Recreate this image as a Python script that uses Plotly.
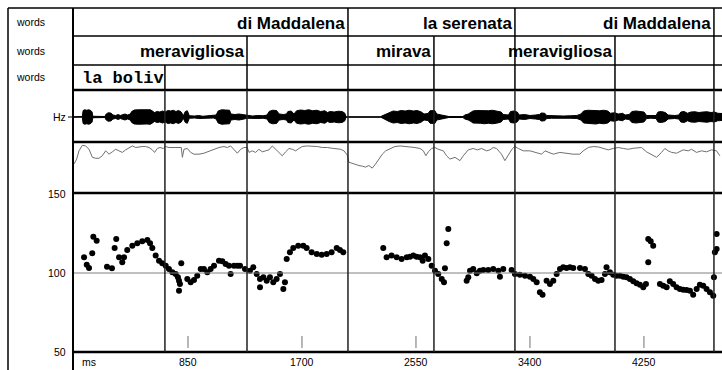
import plotly.graph_objects as go

W, H = 722, 370

# ---------------- data ----------------
T_MAX = 4832  # ms visible in the window

tick_ms = [850, 1700, 2550, 3400, 4250]
hz_ticks = [50, 100, 150]

row_names = ["words", "words", "words"]

tier1_ends = [2043, 3288, 4772]
tier1_labels = ["di Maddalena", "la serenata", "di Maddalena"]
tier2_ends = [1290, 2043, 2684, 3288, 4034, 4772]
tier2_labels = ["meravigliosa", "", "mirava", "", "meravigliosa", ""]
tier3_ends = [678, 1290, 2043, 2684, 3288, 4034, 4772]
tier3_labels = ["la boliv", "", "", "", "", "", ""]

# F0 estimates (ms, Hz)
pitch_ms = [75, 95, 112, 136, 144, 169, 246, 283, 303, 315, 336, 360, 373, 397, 435,
            472, 509, 547, 567, 584, 609, 634, 658, 684, 708, 733, 758, 775, 800, 783,
            790, 783, 845, 870, 895, 919, 945, 969, 994, 1019, 1044, 1081, 1106, 1131,
            1156, 1168, 1193, 1218, 1238, 1275, 1312, 1337, 1362, 1387, 1387, 1412,
            1437, 1461, 1486, 1511, 1536, 1561, 1573, 1586, 1610, 1635, 1672, 1710,
            1735, 1772, 1810, 1847, 1884, 1921, 1959, 1983, 2008,
            2306, 2331, 2368, 2406, 2443, 2481, 2505, 2530, 2555, 2580, 2600, 2617,
            2642, 2667, 2692, 2716, 2742, 2759, 2791, 2779, 2766,
            2928, 2940, 2953, 2977, 3003, 3027, 3052, 3089, 3126, 3164, 3176, 3201,
            3263, 3288, 3325, 3363, 3400, 3425, 3450, 3474, 3494, 3524, 3549, 3574,
            3599, 3624, 3648, 3673, 3698, 3723, 3773, 3810, 3835, 3860, 3885, 3909,
            3934, 3959, 3971, 3996, 4021, 4046, 4071, 4096, 4120, 4145, 4170, 4195,
            4220, 4245, 4265, 4282, 4300, 4319, 4282,
            4369, 4394, 4419, 4443, 4468, 4493, 4518, 4543, 4568, 4593, 4617, 4643,
            4667, 4692, 4717, 4742, 4767, 4772, 4779, 4792, 4792]
pitch_hz = [110, 105.3, 103.2, 112.5, 123, 120.4, 104, 103, 115.8, 121.5, 110, 106.8,
            110, 114.6, 117.3, 118.8, 120.1, 120.9, 118.8, 115.8, 111, 107.8, 106.1,
            104.6, 102.5, 100.4, 99.4, 97.3, 106.1, 95.1, 93, 88.8, 96.2, 94.1, 95.6,
            98.3, 102.5, 102.5, 100.4, 102.5, 104.6, 107.8, 107.4, 105.7, 104.6, 99.4,
            104.6, 104.6, 104.6, 102.5, 101.5, 103.6, 99.4, 96.2, 91, 97.3, 95.1, 97.3,
            94.1, 96.2, 99.4, 89.9, 94.1, 108.9, 113.1, 115.8, 117.3, 117.3, 115.8,
            113.1, 112, 111.6, 112, 113.1, 115.8, 114.6, 113.1,
            115.8, 110, 111, 110, 108.9, 110, 110.3, 111, 110.3, 110, 107.8, 111,
            108.9, 104.6, 101.5, 99.4, 96.2, 94.1, 127.8, 118.8, 103,
            95.1, 97.3, 101.5, 102.5, 99.8, 101.5, 101.9, 101.9, 102.5, 101.5, 97.7,
            102.5, 101.9, 99.4, 98.9, 98.3, 97.7, 96.2, 94.1, 87.8, 86.3, 95.1, 93,
            95.1, 99.4, 102.5, 103.6, 103.2, 103.6, 103.2, 103.2, 102.5, 99.4, 98.3,
            96.2, 95.1, 95.6, 99.4, 103.6, 100.4, 98.9, 98.3, 98.3, 97.7, 97.3, 96.2,
            94.7, 93.5, 92.6, 91, 93, 121.5, 120.1, 117.3, 106.8,
            93, 92, 91, 94.7, 93, 91, 89.9, 89.4, 89.2, 88.8, 86.3, 89.9, 92.6, 92,
            89.9, 87.8, 85.6, 97.3, 113.1, 115.2, 124.7]

# intensity contour (ms, dB)
int_ms = [0, 20, 37, 62, 87, 112, 137, 162, 186, 211, 236, 261, 286, 311, 335, 360,
          385, 410, 435, 460, 485, 509, 534, 559, 584, 601, 621, 641, 666, 683, 708,
          733, 770, 800, 808, 820, 845, 870, 895, 932, 969, 994, 1019, 1044, 1081,
          1118, 1143, 1168, 1193, 1218, 1243, 1267, 1292, 1305, 1329, 1354, 1379,
          1404, 1429, 1454, 1479, 1503, 1528, 1553, 1578, 1603, 1628, 1653, 1677,
          1702, 1740, 1777, 1814, 1851, 1889, 1926, 1963, 1988, 2013, 2038, 2050,
          2087, 2125, 2150, 2174, 2199, 2224, 2249, 2274, 2299, 2324, 2348, 2393,
          2431, 2468, 2505, 2542, 2580, 2605, 2624, 2642, 2667, 2691, 2716, 2754,
          2778, 2803, 2841, 2878, 2903, 2940, 2977, 3007, 3039, 3077, 3102, 3126,
          3151, 3188, 3213, 3231, 3251, 3270, 3288, 3313, 3350, 3400, 3449, 3487,
          3512, 3536, 3574, 3623, 3673, 3723, 3772, 3797, 3835, 3872, 3909, 3946,
          3984, 4021, 4058, 4096, 4133, 4170, 4207, 4232, 4269, 4307, 4344, 4381,
          4406, 4431, 4456, 4493, 4518, 4543, 4580, 4605, 4642, 4679, 4717, 4754,
          4791, 4816]
int_db = [69.8, 72.3, 76.5, 79.3, 79, 77.3, 73.2, 72.7, 72.7, 74, 76.5, 74.8, 76, 77.3,
          76.5, 75.7, 77, 78.2, 79, 78.2, 78.5, 78.7, 78.7, 78.2, 77, 75.7, 77.7, 78.2,
          77.7, 78.7, 78.2, 78.2, 78.2, 78.2, 73.2, 77.3, 77.7, 75.7, 74.8, 74.8, 75.3,
          76, 76.5, 77.3, 78.2, 78.7, 78.2, 79, 77.3, 75.3, 77.3, 78.2, 78.2, 75.7,
          76.5, 75.7, 77.3, 76, 76.5, 77, 79, 77.3, 75.7, 74, 76, 77.7, 77.3, 76.5,
          77.7, 78.7, 79, 79, 78.7, 78.2, 78.2, 77.8, 77.7, 77.3, 76.5, 74.3, 70.7,
          69.8, 69, 68.7, 68.2, 69, 67.7, 69.8, 72.3, 74.8, 76.5, 77.3, 78.7,
          79, 78.7, 78.7, 78.2, 77.7, 76.5, 74, 76, 77.7, 78.2, 77.3, 76.5,
          74, 72.3, 73.2, 71.5, 74, 77, 77.7, 77, 77.7, 76.5, 77, 78.2,
          77.7, 74.8, 71.5, 73.2, 75.7, 77.7, 78.7, 77.7, 76.5, 76.5, 75.7, 74.8,
          76.5, 75.7, 74.8, 75.7, 75.3, 74.8, 74.8, 76.5, 78.2, 78.7, 78.5, 77.8,
          77, 77.7, 78.2, 77.7, 77.3, 77.8, 78.2, 78.2, 76, 74.8, 73.2, 75.7,
          77.7, 76.5, 75.7, 75.3, 76, 77, 76.5, 77.3, 75.7, 76.5, 76, 77,
          76.5, 74]

# waveform amplitude envelope (ms, relative amplitude)
wave_ms = [0, 55, 62, 68, 80, 95, 110, 125, 135, 140, 230, 240, 255, 275, 290, 310,
           330, 345, 365, 380, 400, 420, 430, 450, 480, 510, 540, 570, 590, 600, 620,
           640, 660, 680, 700, 720, 740, 760, 780, 800, 815, 830, 845, 860, 900, 930,
           960, 1000, 1040, 1060, 1075, 1100, 1130, 1160, 1170, 1200, 1230, 1260,
           1290, 1330, 1370, 1410, 1440, 1455, 1480, 1510, 1530, 1560, 1585, 1595,
           1620, 1640, 1660, 1690, 1720, 1750, 1780, 1810, 1840, 1870, 1890, 1910,
           1940, 1970, 2000, 2020, 2028, 2285, 2295, 2320, 2350, 2380, 2410, 2440,
           2470, 2500, 2530, 2560, 2590, 2610, 2640, 2655, 2690, 2705, 2740, 2770,
           2795, 2900, 2915, 2940, 2960, 2975, 3000, 3030, 3060, 3090, 3120, 3150,
           3185, 3200, 3240, 3255, 3280, 3305, 3320, 3360, 3400, 3440, 3470, 3485,
           3510, 3525, 3560, 3600, 3650, 3700, 3750, 3780, 3800, 3830, 3860, 3890,
           3920, 3950, 3980, 4000, 4030, 4060, 4090, 4110, 4140, 4160, 4190, 4220,
           4250, 4270, 4300, 4340, 4355, 4380, 4410, 4430, 4480, 4510, 4525, 4550,
           4575, 4600, 4630, 4660, 4690, 4720, 4750, 4775, 4800, 4832]
wave_amp = [0, 0, 0.02, 0.26, 0.29, 0.27, 0.29, 0.26, 0.2, 0.03, 0.02, 0.12, 0.17,
            0.16, 0.08, 0.06, 0.1, 0.06, 0.1, 0.12, 0.08, 0.12, 0.22, 0.28, 0.29, 0.3,
            0.28, 0.29, 0.22, 0.18, 0.22, 0.2, 0.24, 0.2, 0.26, 0.24, 0.27, 0.22, 0.26,
            0.2, 0.05, 0.22, 0.25, 0.05, 0.04, 0.06, 0.03, 0.05, 0.04, 0.08, 0.24, 0.29,
            0.28, 0.27, 0.12, 0.1, 0.12, 0.09, 0.05, 0.04, 0.06, 0.05, 0.08, 0.22, 0.27,
            0.26, 0.12, 0.1, 0.12, 0.22, 0.24, 0.12, 0.25, 0.28, 0.26, 0.29, 0.25, 0.27,
            0.22, 0.25, 0.18, 0.22, 0.2, 0.23, 0.22, 0.15, 0, 0, 0.04, 0.1, 0.18, 0.24,
            0.22, 0.26, 0.24, 0.27, 0.24, 0.26, 0.2, 0.12, 0.14, 0.25, 0.26, 0.12, 0.08,
            0.05, 0.02, 0.02, 0.08, 0.12, 0.18, 0.24, 0.26, 0.25, 0.27, 0.25, 0.27, 0.25,
            0.2, 0.1, 0.08, 0.22, 0.24, 0.2, 0.08, 0.1, 0.06, 0.08, 0.1, 0.16, 0.15,
            0.06, 0.05, 0.04, 0.04, 0.05, 0.06, 0.12, 0.24, 0.27, 0.26, 0.28, 0.25,
            0.27, 0.24, 0.15, 0.17, 0.12, 0.15, 0.08, 0.1, 0.22, 0.24, 0.22, 0.2, 0.06,
            0.05, 0.06, 0.2, 0.22, 0.18, 0.08, 0.06, 0.08, 0.2, 0.22, 0.15, 0.2, 0.21,
            0.18, 0.2, 0.21, 0.18, 0.2, 0.15, 0.14]


# ---------------- layout helpers (pixel -> paper) ----------------
def px(xp):
    return xp / W


def py(yp):
    return 1 - yp / H


LEFT = 74           # time axis starts here
TIER_ROWS = [(8, 36), (36, 65), (65, 90)]
WAVE_TOP, WAVE_BOT = 92, 142
INT_TOP, INT_BOT = 143, 193
PITCH_TOP, PITCH_BOT = 194, 352

fig = go.Figure()

# waveform as a filled envelope
fig.add_trace(go.Scatter(
    x=wave_ms + wave_ms[::-1],
    y=wave_amp + [-a for a in wave_amp[::-1]],
    fill="toself", fillcolor="black", mode="lines",
    line=dict(color="black", width=1),
    xaxis="x", yaxis="y3", hoverinfo="skip", showlegend=False))

# intensity contour
fig.add_trace(go.Scatter(
    x=int_ms, y=int_db, mode="lines",
    line=dict(color="#707070", width=1),
    xaxis="x", yaxis="y2", showlegend=False))

# pitch points
fig.add_trace(go.Scatter(
    x=pitch_ms, y=pitch_hz, mode="markers",
    marker=dict(color="black", size=6, symbol="circle"),
    xaxis="x", yaxis="y", showlegend=False))

shapes = []


def hline(y, x0, x1, width, color="black"):
    shapes.append(dict(type="line", xref="paper", yref="paper",
                       x0=px(x0), x1=px(x1), y0=py(y), y1=py(y),
                       line=dict(color=color, width=width)))


def vline(x, y0, y1, width, color="black"):
    shapes.append(dict(type="line", xref="paper", yref="paper",
                       x0=px(x), x1=px(x), y0=py(y0), y1=py(y1),
                       line=dict(color=color, width=width)))


# outer frame and label column
hline(8, 8, W, 1.5)
vline(8, 8, H, 1.5)
vline(73, 8, H, 2)
hline(36, 73, W, 1.5)
hline(65, 73, W, 1.5)
for yb in (90, 142, 193, 352):
    hline(yb, 73, W, 2.5)

# 100 Hz reference line
shapes.append(dict(type="line", xref="paper", yref="y", x0=px(LEFT), x1=1,
                   y0=100, y1=100, line=dict(color="#808080", width=1)))
# waveform zero line
shapes.append(dict(type="line", xref="paper", yref="y3", x0=px(68), x1=1,
                   y0=0, y1=0, line=dict(color="black", width=1)))

# interval boundaries in each tier and through the signal panels
tiers = [(tier1_ends, tier1_labels), (tier2_ends, tier2_labels), (tier3_ends, tier3_labels)]
for (top, bot), (ends, _) in zip(TIER_ROWS, tiers):
    for t in ends:
        shapes.append(dict(type="line", xref="x", yref="paper", x0=t, x1=t,
                           y0=py(top), y1=py(bot), line=dict(color="black", width=1.5)))
for t in tier3_ends:
    shapes.append(dict(type="line", xref="x", yref="paper", x0=t, x1=t,
                       y0=py(90), y1=py(352), line=dict(color="#202020", width=1.5)))

# time ticks
for t in tick_ms:
    shapes.append(dict(type="line", xref="x", yref="paper", x0=t, x1=t,
                       y0=py(336), y1=py(348), line=dict(color="#707070", width=1)))

annotations = []
small = dict(family="Liberation Sans, Arial, sans-serif", size=10.5, color="black")

for name, (top, bot) in zip(row_names, TIER_ROWS):
    annotations.append(dict(text=name, xref="paper", yref="paper", x=px(14),
                            y=py((top + bot) / 2), xanchor="left", yanchor="middle",
                            showarrow=False, font=small))

annotations.append(dict(text="Hz", xref="paper", yref="paper", x=px(68), y=py(117),
                        xanchor="right", yanchor="middle", showarrow=False, font=small))

for v in hz_ticks:
    annotations.append(dict(text=str(v), xref="paper", yref="y", x=px(68), y=v,
                            xanchor="right", yanchor="middle", showarrow=False, font=small))

annotations.append(dict(text="ms", xref="paper", yref="paper", x=px(80), y=py(362),
                        xanchor="left", yanchor="middle", showarrow=False, font=small))
for t in tick_ms:
    annotations.append(dict(text=str(t), xref="x", yref="paper", x=t, y=py(362),
                            xanchor="center", yanchor="middle", showarrow=False, font=small))

label_font = dict(family="Liberation Sans, Arial, sans-serif", size=17, color="black")
mono_font = dict(family="Liberation Mono, Courier New, monospace", size=17, color="black")
for i, ((top, bot), (ends, labels)) in enumerate(zip(TIER_ROWS, tiers)):
    starts = [0] + ends[:-1]
    for s, e, lab in zip(starts, ends, labels):
        if not lab:
            continue
        if i == 2:
            annotations.append(dict(text="<b>%s</b>" % lab, xref="x", yref="paper", x=s,
                                    xshift=7, y=py((top + bot) / 2 + 1), xanchor="left",
                                    yanchor="middle", showarrow=False, font=mono_font,
                                    borderpad=0))
        else:
            annotations.append(dict(text="<b>%s</b>" % lab, xref="x", yref="paper", x=e,
                                    xshift=-2, y=py((top + bot) / 2 + 1), xanchor="right",
                                    yanchor="middle", showarrow=False, font=label_font,
                                    borderpad=0))

hidden = dict(visible=False, showgrid=False, zeroline=False, fixedrange=True)
fig.update_layout(
    width=W, height=H,
    margin=dict(l=0, r=0, t=0, b=0),
    paper_bgcolor="white", plot_bgcolor="white",
    showlegend=False,
    xaxis=dict(domain=[px(LEFT), 1], range=[0, T_MAX], **hidden),
    yaxis=dict(domain=[py(PITCH_BOT), py(PITCH_TOP)], range=[50, 150], anchor="x", **hidden),
    yaxis2=dict(domain=[py(INT_BOT), py(INT_TOP)], range=[55, 80.5], anchor="x", **hidden),
    yaxis3=dict(domain=[py(WAVE_BOT), py(WAVE_TOP)], range=[-1, 1], anchor="x", **hidden),
    shapes=shapes,
    annotations=annotations,
)

fig.write_html("out.html")
